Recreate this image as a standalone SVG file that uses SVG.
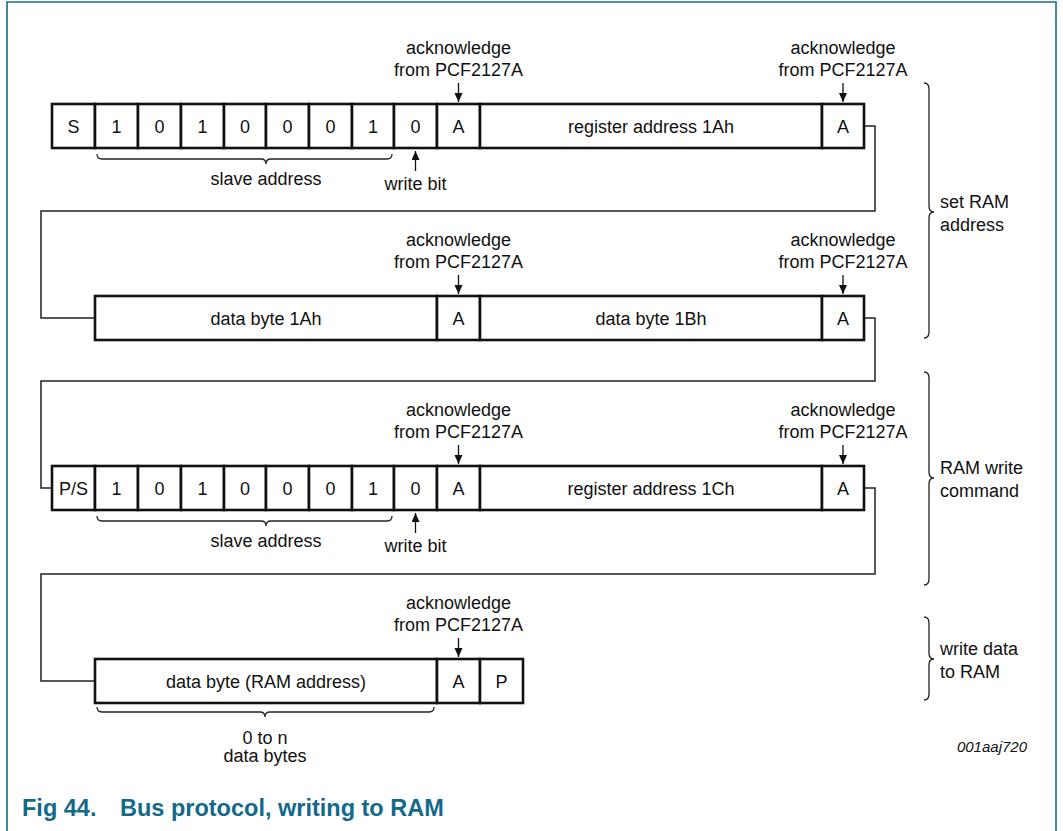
<svg xmlns="http://www.w3.org/2000/svg" width="1063" height="831" viewBox="0 0 1063 831">
<style>
text{font-family:"Liberation Sans",Arial,sans-serif;font-size:18px;fill:#111;}
.c{text-anchor:middle;}
.box{fill:#fff;stroke:#111;stroke-width:2.6;}
.conn{fill:none;stroke:#222;stroke-width:1.5;}
.arr{fill:none;stroke:#111;stroke-width:1.3;}
.brace{fill:none;stroke:#222;stroke-width:1.3;}
.frame{fill:none;stroke:#1a6a86;stroke-width:1.6;}
.cap{font-weight:bold;font-size:23.5px;fill:#12698a;}
.id{font-style:italic;font-size:15px;text-anchor:end;}
</style>
<defs>
<marker id="ah" markerUnits="userSpaceOnUse" markerWidth="10" markerHeight="10" refX="9" refY="4" orient="auto">
<path d="M0,0 L9,4 L0,8 z" fill="#111"/>
</marker>
</defs>
<path class="frame" d="M7,831 V2 H1056 V831"/>
<g id="connectors">
<path class="conn" d="M864,126 H875 V211 H41 V318 H95"/>
<path class="conn" d="M864,318 H875 V381 H41 V488 H52"/>
<path class="conn" d="M864,488 H875 V574 H41 V681 H95"/>
</g>
<g id="row1">
<rect class="box" x="52" y="104" width="43" height="44"/>
<rect class="box" x="95" y="104" width="43" height="44"/>
<rect class="box" x="138" y="104" width="43" height="44"/>
<rect class="box" x="181" y="104" width="43" height="44"/>
<rect class="box" x="224" y="104" width="42" height="44"/>
<rect class="box" x="266" y="104" width="43" height="44"/>
<rect class="box" x="309" y="104" width="43" height="44"/>
<rect class="box" x="352" y="104" width="42" height="44"/>
<rect class="box" x="394" y="104" width="43" height="44"/>
<rect class="box" x="437" y="104" width="43" height="44"/>
<rect class="box" x="480" y="104" width="342" height="44"/>
<rect class="box" x="822" y="104" width="42" height="44"/>
<text class="c" x="73.5" y="132.5">S</text>
<text class="c" x="116.5" y="132.5">1</text>
<text class="c" x="159.5" y="132.5">0</text>
<text class="c" x="202.5" y="132.5">1</text>
<text class="c" x="245" y="132.5">0</text>
<text class="c" x="287.5" y="132.5">0</text>
<text class="c" x="330.5" y="132.5">0</text>
<text class="c" x="373" y="132.5">1</text>
<text class="c" x="415.5" y="132.5">0</text>
<text class="c" x="458.5" y="132.5">A</text>
<text class="c" x="651" y="132.5">register address 1Ah</text>
<text class="c" x="843" y="132.5">A</text>
<text class="c" x="458.5" y="54">acknowledge</text>
<text class="c" x="458.5" y="76">from PCF2127A</text>
<line class="arr" x1="458.5" y1="83" x2="458.5" y2="102" marker-end="url(#ah)"/>
<text class="c" x="843" y="54">acknowledge</text>
<text class="c" x="843" y="76">from PCF2127A</text>
<line class="arr" x1="843" y1="83" x2="843" y2="102" marker-end="url(#ah)"/>
<path class="brace" d="M97,154 Q97,159 102,159 H261 Q266,159 266,164 Q266,159 271,159 H387 Q392,159 392,154"/>
<text class="c" x="266" y="185">slave address</text>
<line class="arr" x1="415.5" y1="171" x2="415.5" y2="151" marker-end="url(#ah)"/>
<text class="c" x="415.5" y="190">write bit</text>
</g>
<g id="row2">
<rect class="box" x="95" y="296" width="342" height="44"/>
<rect class="box" x="437" y="296" width="43" height="44"/>
<rect class="box" x="480" y="296" width="342" height="44"/>
<rect class="box" x="822" y="296" width="42" height="44"/>
<text class="c" x="266" y="324.5">data byte 1Ah</text>
<text class="c" x="458.5" y="324.5">A</text>
<text class="c" x="651" y="324.5">data byte 1Bh</text>
<text class="c" x="843" y="324.5">A</text>
<text class="c" x="458.5" y="246">acknowledge</text>
<text class="c" x="458.5" y="268">from PCF2127A</text>
<line class="arr" x1="458.5" y1="275" x2="458.5" y2="294" marker-end="url(#ah)"/>
<text class="c" x="843" y="246">acknowledge</text>
<text class="c" x="843" y="268">from PCF2127A</text>
<line class="arr" x1="843" y1="275" x2="843" y2="294" marker-end="url(#ah)"/>
</g>
<g id="row3">
<rect class="box" x="52" y="466" width="43" height="44"/>
<rect class="box" x="95" y="466" width="43" height="44"/>
<rect class="box" x="138" y="466" width="43" height="44"/>
<rect class="box" x="181" y="466" width="43" height="44"/>
<rect class="box" x="224" y="466" width="42" height="44"/>
<rect class="box" x="266" y="466" width="43" height="44"/>
<rect class="box" x="309" y="466" width="43" height="44"/>
<rect class="box" x="352" y="466" width="42" height="44"/>
<rect class="box" x="394" y="466" width="43" height="44"/>
<rect class="box" x="437" y="466" width="43" height="44"/>
<rect class="box" x="480" y="466" width="342" height="44"/>
<rect class="box" x="822" y="466" width="42" height="44"/>
<text class="c" x="73.5" y="494.5">P/S</text>
<text class="c" x="116.5" y="494.5">1</text>
<text class="c" x="159.5" y="494.5">0</text>
<text class="c" x="202.5" y="494.5">1</text>
<text class="c" x="245" y="494.5">0</text>
<text class="c" x="287.5" y="494.5">0</text>
<text class="c" x="330.5" y="494.5">0</text>
<text class="c" x="373" y="494.5">1</text>
<text class="c" x="415.5" y="494.5">0</text>
<text class="c" x="458.5" y="494.5">A</text>
<text class="c" x="651" y="494.5">register address 1Ch</text>
<text class="c" x="843" y="494.5">A</text>
<text class="c" x="458.5" y="416">acknowledge</text>
<text class="c" x="458.5" y="438">from PCF2127A</text>
<line class="arr" x1="458.5" y1="445" x2="458.5" y2="464" marker-end="url(#ah)"/>
<text class="c" x="843" y="416">acknowledge</text>
<text class="c" x="843" y="438">from PCF2127A</text>
<line class="arr" x1="843" y1="445" x2="843" y2="464" marker-end="url(#ah)"/>
<path class="brace" d="M97,516 Q97,521 102,521 H261 Q266,521 266,526 Q266,521 271,521 H387 Q392,521 392,516"/>
<text class="c" x="266" y="547">slave address</text>
<line class="arr" x1="415.5" y1="533" x2="415.5" y2="513" marker-end="url(#ah)"/>
<text class="c" x="415.5" y="552">write bit</text>
</g>
<g id="row4">
<rect class="box" x="95" y="659" width="342" height="44"/>
<rect class="box" x="437" y="659" width="43" height="44"/>
<rect class="box" x="480" y="659" width="43" height="44"/>
<text class="c" x="266" y="687.5">data byte (RAM address)</text>
<text class="c" x="458.5" y="687.5">A</text>
<text class="c" x="501.5" y="687.5">P</text>
<text class="c" x="458.5" y="609">acknowledge</text>
<text class="c" x="458.5" y="631">from PCF2127A</text>
<line class="arr" x1="458.5" y1="638" x2="458.5" y2="657" marker-end="url(#ah)"/>
<path class="brace" d="M97,707 Q97,712 102,712 H260 Q265,712 265,717 Q265,712 270,712 H429 Q434,712 434,707"/>
<text class="c" x="265" y="744">0 to n</text>
<text class="c" x="265" y="762">data bytes</text>
</g>
<g id="brace-set-ram">
<path class="brace" d="M924,83 Q929,83 929,89 V206 Q929,212 934,212 Q929,212 929,218 V332 Q929,338 924,338"/>
<text x="940" y="208">set RAM</text>
<text x="940" y="231">address</text>
</g>
<g id="brace-ram-write">
<path class="brace" d="M924,372 Q929,372 929,378 V472 Q929,478 934,478 Q929,478 929,484 V579 Q929,585 924,585"/>
<text x="940" y="474">RAM write</text>
<text x="940" y="497">command</text>
</g>
<g id="brace-write-data">
<path class="brace" d="M924,617 Q929,617 929,623 V653 Q929,659 934,659 Q929,659 929,665 V694 Q929,700 924,700"/>
<text x="940" y="655">write data</text>
<text x="940" y="678">to RAM</text>
</g>
<text class="id" x="1027" y="752">001aaj720</text>
<text class="cap" x="22" y="816">Fig 44.</text>
<text class="cap" x="120" y="816">Bus protocol, writing to RAM</text>
</svg>
